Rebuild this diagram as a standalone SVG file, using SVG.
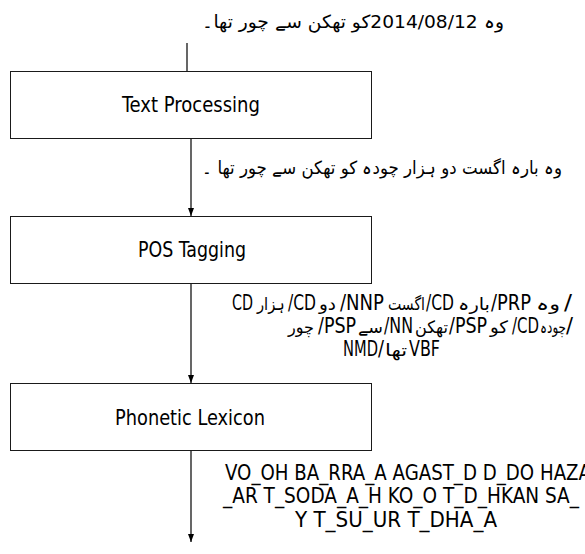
<svg xmlns="http://www.w3.org/2000/svg" width="585" height="554" viewBox="0 0 585 554">
<defs>
<style>
.box{fill:#fff;stroke:#1a1a1a;stroke-width:1}
.lbl{font-family:"Liberation Sans Narrow","DejaVu Sans Condensed","Liberation Sans",sans-serif;font-size:21px;fill:#000;text-anchor:middle}
.lat{font-family:"Liberation Sans Narrow","DejaVu Sans Condensed","Liberation Sans",sans-serif;font-size:22px;fill:#000}
.ur{font-family:"DejaVu Sans",sans-serif;font-size:18px;fill:#000}
.us{font-family:"DejaVu Sans",sans-serif;font-size:17px}
.con{stroke:#000;stroke-width:1.2;fill:none}
</style>
<marker id="ah" viewBox="0 0 8 6" refX="8" refY="3" markerWidth="8" markerHeight="6" markerUnits="userSpaceOnUse" orient="auto">
<path d="M0,0 L8,3 L0,6 z" fill="#000"/>
</marker>
</defs>
<rect width="585" height="554" fill="#fff"/>

<g id="connectors">
<line class="con" x1="187" y1="43" x2="187" y2="72"/>
<polygon points="181,72 187,72.5 181.5,79" fill="#000"/>
<line class="con" x1="191" y1="138" x2="191" y2="216" marker-end="url(#ah)"/>
<line class="con" x1="191" y1="283" x2="191" y2="383" marker-end="url(#ah)"/>
<line class="con" x1="191" y1="450" x2="191" y2="542" marker-end="url(#ah)"/>
</g>

<g id="input-text">
<text class="ur" x="353" y="28" direction="rtl" text-anchor="middle" textLength="302" lengthAdjust="spacingAndGlyphs">وہ 2014/08/12کو تھکن سے چور تھا۔</text>
</g>

<g id="text-processing">
<rect class="box" x="10.5" y="71.5" width="361" height="67"/>
<text class="lbl" x="191" y="112" textLength="138" lengthAdjust="spacingAndGlyphs">Text Processing</text>
</g>

<g id="normalized-text">
<text class="ur" x="382" y="174" direction="rtl" text-anchor="middle" textLength="360" lengthAdjust="spacingAndGlyphs">وہ بارہ اگست دو ہزار چودہ کو تھکن سے چور تھا ۔</text>
</g>

<g id="pos-tagging">
<rect class="box" x="10.5" y="216.5" width="361" height="67"/>
<text class="lbl" x="192" y="257" textLength="108" lengthAdjust="spacingAndGlyphs">POS Tagging</text>
</g>

<g id="tagged-text">
<text class="lat" y="310">
<tspan x="232" textLength="21" lengthAdjust="spacingAndGlyphs">CD</tspan>
<tspan class="us" x="257" textLength="28" lengthAdjust="spacingAndGlyphs">ہزار</tspan>
<tspan x="288" textLength="28" lengthAdjust="spacingAndGlyphs">/CD</tspan>
<tspan class="us" x="319" textLength="17" lengthAdjust="spacingAndGlyphs">دو</tspan>
<tspan x="340" textLength="44" lengthAdjust="spacingAndGlyphs">/NNP</tspan>
<tspan class="us" x="388" textLength="37" lengthAdjust="spacingAndGlyphs">اگست</tspan>
<tspan x="426" textLength="28" lengthAdjust="spacingAndGlyphs">/CD</tspan>
<tspan class="us" x="458" textLength="32" lengthAdjust="spacingAndGlyphs">بارہ</tspan>
<tspan x="491" textLength="40" lengthAdjust="spacingAndGlyphs">/PRP</tspan>
<tspan class="us" x="536" textLength="24" lengthAdjust="spacingAndGlyphs">وہ</tspan>
<tspan x="564" textLength="8" lengthAdjust="spacingAndGlyphs">/</tspan>
</text>
<text class="lat" y="333">
<tspan class="us" x="288" textLength="26" lengthAdjust="spacingAndGlyphs">چور</tspan>
<tspan x="318" textLength="38" lengthAdjust="spacingAndGlyphs">/PSP</tspan>
<tspan class="us" x="358" textLength="25" lengthAdjust="spacingAndGlyphs">سے</tspan>
<tspan x="384" textLength="29" lengthAdjust="spacingAndGlyphs">/NN</tspan>
<tspan class="us" x="415" textLength="33" lengthAdjust="spacingAndGlyphs">تھکن</tspan>
<tspan x="449" textLength="38" lengthAdjust="spacingAndGlyphs">/PSP</tspan>
<tspan class="us" x="490" textLength="18" lengthAdjust="spacingAndGlyphs">کو</tspan>
<tspan x="512" textLength="27" lengthAdjust="spacingAndGlyphs">/CD</tspan>
<tspan class="us" x="540" textLength="26" lengthAdjust="spacingAndGlyphs">چودہ</tspan>
<tspan x="566" textLength="7" lengthAdjust="spacingAndGlyphs">/</tspan>
</text>
<text class="lat" y="356">
<tspan x="343" textLength="35" lengthAdjust="spacingAndGlyphs">NMD</tspan>
<tspan x="378" textLength="6" lengthAdjust="spacingAndGlyphs">/</tspan>
<tspan class="us" x="385" textLength="22" lengthAdjust="spacingAndGlyphs">تھا</tspan>
<tspan x="409" textLength="31" lengthAdjust="spacingAndGlyphs">VBF</tspan>
</text>
</g>

<g id="phonetic-lexicon">
<rect class="box" x="10.5" y="383.5" width="361" height="67"/>
<text class="lbl" x="190" y="425" textLength="150" lengthAdjust="spacingAndGlyphs">Phonetic Lexicon</text>
</g>

<g id="phonetic-output">
<text class="lat" x="225" y="480" textLength="366" lengthAdjust="spacingAndGlyphs">VO_OH BA_RRA_A AGAST_D D_DO HAZA</text>
<text class="lat" x="223" y="503" textLength="356" lengthAdjust="spacingAndGlyphs">_AR T_SODA_A_H KO_O T_D_HKAN SA_</text>
<text class="lat" x="295" y="527" textLength="202" lengthAdjust="spacingAndGlyphs">Y T_SU_UR T_DHA_A</text>
</g>
</svg>
